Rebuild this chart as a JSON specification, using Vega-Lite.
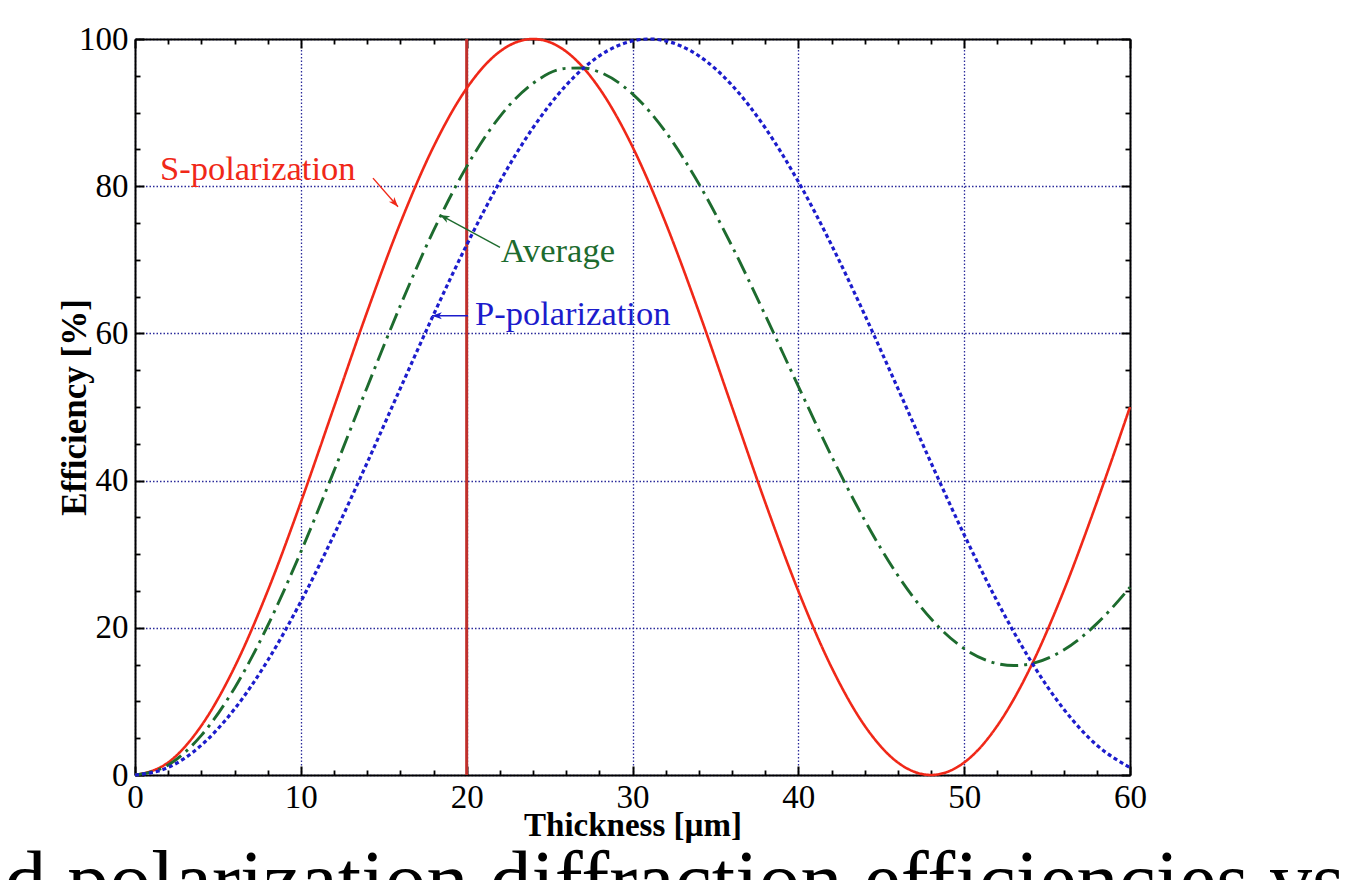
{
  "$schema": "https://vega.github.io/schema/vega-lite/v6.json",
  "width": 995,
  "height": 736,
  "autosize": {"type": "none"},
  "padding": {"left": 135, "top": 39, "right": 226, "bottom": 105},
  "background": "white",
  "title": {
    "text": "d polarization diffraction efficiencies vs",
    "orient": "bottom",
    "anchor": "middle",
    "frame": "group",
    "font": "Liberation Serif",
    "fontSize": 84,
    "fontWeight": "normal",
    "color": "black",
    "baseline": "alphabetic",
    "offset": 67,
    "dx": 42
  },
  "config": {"view": {"stroke": null}, "font": "Liberation Serif"},
  "datasets": {
    "curves": [
      {"t": 0, "v": 0, "series": "S-polarization"},
      {"t": 2, "v": 1.70, "series": "S-polarization"},
      {"t": 4, "v": 6.70, "series": "S-polarization"},
      {"t": 6, "v": 14.64, "series": "S-polarization"},
      {"t": 8, "v": 25.0, "series": "S-polarization"},
      {"t": 10, "v": 37.06, "series": "S-polarization"},
      {"t": 12, "v": 50.0, "series": "S-polarization"},
      {"t": 14, "v": 62.94, "series": "S-polarization"},
      {"t": 16, "v": 75.0, "series": "S-polarization"},
      {"t": 18, "v": 85.36, "series": "S-polarization"},
      {"t": 20, "v": 93.30, "series": "S-polarization"},
      {"t": 22, "v": 98.30, "series": "S-polarization"},
      {"t": 24, "v": 100, "series": "S-polarization"},
      {"t": 26, "v": 98.30, "series": "S-polarization"},
      {"t": 27, "v": 96.19, "series": "S-polarization"},
      {"t": 28, "v": 93.30, "series": "S-polarization"},
      {"t": 30, "v": 85.36, "series": "S-polarization"},
      {"t": 31, "v": 80.44, "series": "S-polarization"},
      {"t": 32, "v": 75.0, "series": "S-polarization"},
      {"t": 34, "v": 62.94, "series": "S-polarization"},
      {"t": 36, "v": 50.0, "series": "S-polarization"},
      {"t": 38, "v": 37.06, "series": "S-polarization"},
      {"t": 40, "v": 25.0, "series": "S-polarization"},
      {"t": 42, "v": 14.64, "series": "S-polarization"},
      {"t": 44, "v": 6.70, "series": "S-polarization"},
      {"t": 46, "v": 1.70, "series": "S-polarization"},
      {"t": 48, "v": 0, "series": "S-polarization"},
      {"t": 50, "v": 1.70, "series": "S-polarization"},
      {"t": 52, "v": 6.70, "series": "S-polarization"},
      {"t": 53, "v": 10.33, "series": "S-polarization"},
      {"t": 54, "v": 14.64, "series": "S-polarization"},
      {"t": 56, "v": 25.0, "series": "S-polarization"},
      {"t": 58, "v": 37.06, "series": "S-polarization"},
      {"t": 60, "v": 50.0, "series": "S-polarization"},
      {"t": 0, "v": 0, "series": "Average"},
      {"t": 2, "v": 1.36, "series": "Average"},
      {"t": 4, "v": 5.38, "series": "Average"},
      {"t": 6, "v": 11.80, "series": "Average"},
      {"t": 8, "v": 20.28, "series": "Average"},
      {"t": 10, "v": 30.31, "series": "Average"},
      {"t": 12, "v": 41.32, "series": "Average"},
      {"t": 14, "v": 52.69, "series": "Average"},
      {"t": 16, "v": 63.77, "series": "Average"},
      {"t": 18, "v": 73.95, "series": "Average"},
      {"t": 20, "v": 82.66, "series": "Average"},
      {"t": 22, "v": 89.46, "series": "Average"},
      {"t": 24, "v": 93.97, "series": "Average"},
      {"t": 26, "v": 96.01, "series": "Average"},
      {"t": 27, "v": 96.07, "series": "Average"},
      {"t": 28, "v": 95.51, "series": "Average"},
      {"t": 30, "v": 92.55, "series": "Average"},
      {"t": 31, "v": 90.22, "series": "Average"},
      {"t": 32, "v": 87.37, "series": "Average"},
      {"t": 34, "v": 80.33, "series": "Average"},
      {"t": 36, "v": 71.86, "series": "Average"},
      {"t": 38, "v": 62.50, "series": "Average"},
      {"t": 40, "v": 52.81, "series": "Average"},
      {"t": 42, "v": 43.33, "series": "Average"},
      {"t": 44, "v": 34.62, "series": "Average"},
      {"t": 46, "v": 27.12, "series": "Average"},
      {"t": 48, "v": 21.22, "series": "Average"},
      {"t": 50, "v": 17.17, "series": "Average"},
      {"t": 52, "v": 15.13, "series": "Average"},
      {"t": 53, "v": 14.87, "series": "Average"},
      {"t": 54, "v": 15.10, "series": "Average"},
      {"t": 56, "v": 16.98, "series": "Average"},
      {"t": 58, "v": 20.56, "series": "Average"},
      {"t": 60, "v": 25.51, "series": "Average"},
      {"t": 0, "v": 0, "series": "P-polarization"},
      {"t": 2, "v": 1.02, "series": "P-polarization"},
      {"t": 4, "v": 4.05, "series": "P-polarization"},
      {"t": 6, "v": 8.96, "series": "P-polarization"},
      {"t": 8, "v": 15.55, "series": "P-polarization"},
      {"t": 10, "v": 23.56, "series": "P-polarization"},
      {"t": 12, "v": 32.64, "series": "P-polarization"},
      {"t": 14, "v": 42.43, "series": "P-polarization"},
      {"t": 16, "v": 52.53, "series": "P-polarization"},
      {"t": 18, "v": 62.53, "series": "P-polarization"},
      {"t": 20, "v": 72.02, "series": "P-polarization"},
      {"t": 22, "v": 80.61, "series": "P-polarization"},
      {"t": 24, "v": 87.94, "series": "P-polarization"},
      {"t": 26, "v": 93.72, "series": "P-polarization"},
      {"t": 27, "v": 95.95, "series": "P-polarization"},
      {"t": 28, "v": 97.71, "series": "P-polarization"},
      {"t": 30, "v": 99.74, "series": "P-polarization"},
      {"t": 31, "v": 100, "series": "P-polarization"},
      {"t": 32, "v": 99.74, "series": "P-polarization"},
      {"t": 34, "v": 97.71, "series": "P-polarization"},
      {"t": 36, "v": 93.72, "series": "P-polarization"},
      {"t": 38, "v": 87.94, "series": "P-polarization"},
      {"t": 40, "v": 80.61, "series": "P-polarization"},
      {"t": 42, "v": 72.02, "series": "P-polarization"},
      {"t": 44, "v": 62.53, "series": "P-polarization"},
      {"t": 46, "v": 52.53, "series": "P-polarization"},
      {"t": 48, "v": 42.43, "series": "P-polarization"},
      {"t": 50, "v": 32.64, "series": "P-polarization"},
      {"t": 52, "v": 23.56, "series": "P-polarization"},
      {"t": 53, "v": 19.40, "series": "P-polarization"},
      {"t": 54, "v": 15.55, "series": "P-polarization"},
      {"t": 56, "v": 8.96, "series": "P-polarization"},
      {"t": 58, "v": 4.05, "series": "P-polarization"},
      {"t": 60, "v": 1.02, "series": "P-polarization"}
    ]
  },
  "resolve": {"axis": {"x": "independent", "y": "independent"}},
  "layer": [
    {
      "data": {"values": [{"t": 20}]},
      "mark": {"type": "rule", "color": "#c0302c", "strokeWidth": 3},
      "encoding": {
        "x": {
          "field": "t", "type": "quantitative",
          "scale": {"domain": [0, 60], "nice": false},
          "axis": {"orient": "bottom", "values": [2,4,6,8,12,14,16,18,22,24,26,28,32,34,36,38,42,44,46,48,52,54,56,58], "labels": false, "grid": false, "domain": false, "title": null, "tickSize": -5, "tickWidth": 1.8, "tickColor": "black"}
        }
      }
    },
    {
      "data": {"name": "curves"},
      "mark": {"type": "line", "interpolate": "monotone"},
      "encoding": {
        "x": {
          "field": "t", "type": "quantitative",
          "scale": {"domain": [0, 60], "nice": false},
          "axis": {"orient": "bottom", "values": [0,10,20,30,40,50,60], "format": "d", "grid": true, "gridColor": "#2a2a9a", "gridDash": [1.5, 2], "gridWidth": 1.3, "gridOpacity": 1, "tickSize": -9, "tickWidth": 2, "tickColor": "black", "domain": true, "domainColor": "black", "domainWidth": 2, "labelFont": "Liberation Serif", "labelFontSize": 33, "labelColor": "black", "labelPadding": 15, "labelFlush": false, "labelOverlap": false, "title": "Thickness [µm]", "titleFont": "Liberation Serif", "titleFontSize": 33, "titleFontWeight": "bold", "titleColor": "black", "titlePadding": -5}
        },
        "y": {
          "field": "v", "type": "quantitative",
          "scale": {"domain": [0, 100], "nice": false},
          "axis": {"orient": "left", "values": [0,20,40,60,80,100], "format": "d", "grid": true, "gridColor": "#2a2a9a", "gridDash": [1.5, 2], "gridWidth": 1.3, "gridOpacity": 1, "tickSize": -9, "tickWidth": 2, "tickColor": "black", "domain": true, "domainColor": "black", "domainWidth": 2, "labelFont": "Liberation Serif", "labelFontSize": 33, "labelColor": "black", "labelPadding": 16, "labelFlush": false, "labelOverlap": false, "title": "Efficiency [%]", "titleFont": "Liberation Serif", "titleFontSize": 35, "titleFontWeight": "bold", "titleColor": "black", "titlePadding": -14}
        },
        "color": {
          "field": "series", "type": "nominal",
          "scale": {"domain": ["S-polarization", "Average", "P-polarization"], "range": ["#f02818", "#1d6b2e", "#1c1ccc"]},
          "legend": null
        },
        "strokeDash": {
          "field": "series", "type": "nominal",
          "scale": {"domain": ["S-polarization", "Average", "P-polarization"], "range": [[1, 0], [18, 6, 3, 6], [4, 3]]},
          "legend": null
        },
        "strokeWidth": {
          "field": "series", "type": "nominal",
          "scale": {"domain": ["S-polarization", "Average", "P-polarization"], "range": [2.6, 3.2, 3.2]},
          "legend": null
        }
      }
    },
    {
      "data": {"values": [
        {"series": "S-polarization", "x1": 14.35, "y1": 81.1, "x2": 15.86, "y2": 77.2},
        {"series": "Average", "x1": 22.01, "y1": 71.7, "x2": 18.39, "y2": 76.1},
        {"series": "P-polarization", "x1": 20.08, "y1": 62.4, "x2": 17.91, "y2": 62.4}
      ]},
      "mark": {"type": "rule", "strokeWidth": 1.4},
      "encoding": {
        "x": {
          "field": "x1", "type": "quantitative",
          "scale": {"domain": [0, 60], "nice": false},
          "axis": {"orient": "top", "values": [0,10,20,30,40,50,60], "labels": false, "grid": false, "domain": true, "domainColor": "black", "domainWidth": 2, "title": null, "tickSize": -9, "tickWidth": 2, "tickColor": "black"}
        },
        "x2": {"field": "x2"},
        "y": {
          "field": "y1", "type": "quantitative",
          "scale": {"domain": [0, 100], "nice": false},
          "axis": {"orient": "left", "values": [5,10,15,25,30,35,45,50,55,65,70,75,85,90,95], "labels": false, "grid": false, "domain": false, "title": null, "tickSize": -5, "tickWidth": 1.8, "tickColor": "black"}
        },
        "y2": {"field": "y2"},
        "color": {"field": "series", "type": "nominal", "legend": null}
      }
    },
    {
      "data": {"values": [
        {"series": "S-polarization", "label": "S-polarization", "lx": 1.51, "ly": 80.8},
        {"series": "Average", "label": "Average", "lx": 22.05, "ly": 69.7},
        {"series": "P-polarization", "label": "P-polarization", "lx": 20.5, "ly": 61.14}
      ]},
      "mark": {"type": "text", "align": "left", "baseline": "alphabetic", "font": "Liberation Serif", "fontSize": 34.5},
      "encoding": {
        "x": {
          "field": "lx", "type": "quantitative",
          "scale": {"domain": [0, 60], "nice": false},
          "axis": {"orient": "top", "values": [2,4,6,8,12,14,16,18,22,24,26,28,32,34,36,38,42,44,46,48,52,54,56,58], "labels": false, "grid": false, "domain": false, "title": null, "tickSize": -5, "tickWidth": 1.8, "tickColor": "black"}
        },
        "y": {
          "field": "ly", "type": "quantitative",
          "scale": {"domain": [0, 100], "nice": false},
          "axis": {"orient": "right", "values": [0,20,40,60,80,100], "labels": false, "grid": false, "domain": true, "domainColor": "black", "domainWidth": 2, "title": null, "tickSize": -9, "tickWidth": 2, "tickColor": "black"}
        },
        "text": {"field": "label"},
        "color": {"field": "series", "type": "nominal", "legend": null}
      }
    },
    {
      "data": {"values": [{"hx": 15.86, "hy": 77.2}]},
      "mark": {"type": "point", "shape": "M0,0L-0.8,2.2L0,1.6L0.8,2.2Z", "angle": 139, "filled": true, "color": "#f02818", "size": 80, "opacity": 1},
      "encoding": {
        "x": {"field": "hx", "type": "quantitative", "scale": {"domain": [0, 60], "nice": false}, "axis": null},
        "y": {
          "field": "hy", "type": "quantitative",
          "scale": {"domain": [0, 100], "nice": false},
          "axis": {"orient": "right", "values": [5,10,15,25,30,35,45,50,55,65,70,75,85,90,95], "labels": false, "grid": false, "domain": false, "title": null, "tickSize": -5, "tickWidth": 1.8, "tickColor": "black"}
        }
      }
    },
    {
      "data": {"values": [{"hx": 18.39, "hy": 76.1}]},
      "mark": {"type": "point", "shape": "M0,0L-0.8,2.2L0,1.6L0.8,2.2Z", "angle": 298, "filled": true, "color": "#1d6b2e", "size": 80, "opacity": 1},
      "encoding": {
        "x": {"field": "hx", "type": "quantitative", "axis": null},
        "y": {"field": "hy", "type": "quantitative", "axis": null}
      }
    },
    {
      "data": {"values": [{"hx": 17.91, "hy": 62.4}]},
      "mark": {"type": "point", "shape": "M0,0L-0.8,2.2L0,1.6L0.8,2.2Z", "angle": 270, "filled": true, "color": "#1c1ccc", "size": 80, "opacity": 1},
      "encoding": {
        "x": {"field": "hx", "type": "quantitative", "axis": null},
        "y": {"field": "hy", "type": "quantitative", "axis": null}
      }
    }
  ]
}
